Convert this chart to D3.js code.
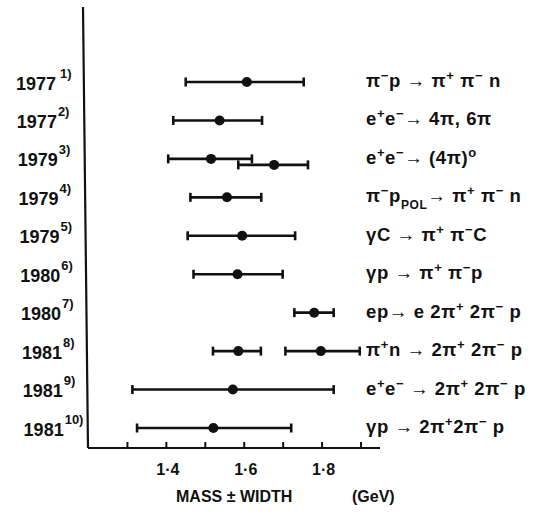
<!DOCTYPE html>
<html>
<head>
<meta charset="utf-8">
<script src="https://cdn.jsdelivr.net/npm/d3@7"></script>
<style>
  body{margin:0;background:#fff;}
  text{font-family:"Liberation Sans",Arial,sans-serif;fill:#111;}
</style>
</head>
<body>
<svg id="chart" width="546" height="518"></svg>
<script>
// rows (top to bottom)
var years=["1977","1977","1979","1979","1979","1980","1980","1981","1981","1981"];
var refs=["1)","2)","3)","4)","5)","6)","7)","8)","9)","10)"];
var reactions=[
	"π^{−}p → π^{+} π^{−} n",
	"e^{+}e^{−}→ 4π, 6π",
	"e^{+}e^{−}→ (4π)^{o}",
	"π^{−}p_{POL}→ π^{+} π^{−} n",
	"γC → π^{+}  π^{−}C",
	"γp → π^{+} π^{−}p",
	"ep→ e 2π^{+} 2π^{−} p",
	"π^{+}n → 2π^{+} 2π^{−} p",
	"e^{+}e^{−} → 2π^{+} 2π^{−} p",
	"γp → 2π^{+}2π^{−} p"
];

// measurements (GeV): row index, second point in row flag, low end, mass, high end
var pointRow=[0,1,2,2,3,4,5,6,7,7,8,9];
var pointSub=[0,0,0,1,0,0,0,0,0,0,0,0];
var lows=  [1.451,1.419,1.406,1.586,1.463,1.456,1.471,1.730,1.521,1.707,1.314,1.326];
var masses=[1.608,1.538,1.516,1.678,1.557,1.596,1.584,1.781,1.586,1.798,1.572,1.522];
var highs= [1.754,1.647,1.621,1.765,1.645,1.732,1.700,1.831,1.644,1.898,1.831,1.722];

var xTicks=[1.3,1.4,1.5,1.6,1.7,1.8,1.9];
var xTickLabels=["1·4","1·6","1·8"];
var xTickLabelValues=[1.4,1.6,1.8];

var svg=d3.select("#chart");

var x=d3.scaleLinear().domain([1.2,1.95]).range([88,380]);
var y=d3.scalePoint().domain(d3.range(years.length)).range([82,428]);
var axisY=448;

// axes: slightly slanted vertical line like the scan
svg.append("line")
	.attr("x1",83).attr("y1",7)
	.attr("x2",88).attr("y2",axisY)
	.attr("stroke","#111").attr("stroke-width",2.2);

var xAxis=d3.axisBottom(x)
	.tickValues(xTicks)
	.tickSize(-6)
	.tickFormat("");
var gx=svg.append("g")
	.attr("transform","translate(0,"+axisY+")")
	.call(xAxis);
gx.select(".domain").attr("stroke","#111").attr("stroke-width",2.2).attr("d","M88,0H380");
gx.selectAll(".tick line").attr("stroke","#111").attr("stroke-width",2);

svg.selectAll(".xlab")
	.data(xTickLabels)
	.enter().append("text")
	.attr("class","xlab")
	.attr("x",function(d,i){ return x(xTickLabelValues[i])+2; })
	.attr("y",475)
	.attr("text-anchor","middle")
	.attr("font-size",16)
	.attr("font-weight","bold")
	.text(function(d){ return d; });

svg.append("text")
	.attr("x",176).attr("y",502)
	.attr("font-size",16).attr("font-weight","bold")
	.text("MASS ± WIDTH");
svg.append("text")
	.attr("x",352).attr("y",502)
	.attr("font-size",16).attr("font-weight","bold")
	.text("(GeV)");

// year labels with reference superscripts
var yearG=svg.selectAll(".year")
	.data(years)
	.enter().append("text")
	.attr("class","year")
	.attr("x",function(d,i){ return 16+(y(i)-82)*0.022; })
	.attr("y",function(d,i){ return y(i)+7.5; })
	.attr("font-size",18)
	.attr("font-weight","bold");
yearG.append("tspan").text(function(d){ return d; });
yearG.append("tspan")
	.attr("dx",function(d,i){ return i===0?4:1; })
	.attr("dy",-12)
	.attr("font-size",13)
	.text(function(d,i){ return refs[i]; });

// reaction text: ^{..} superscript, _{..} subscript
function richText(sel,str){
	var parts=str.split(/(\^\{[^}]*\}|_\{[^}]*\})/);
	var shift=0;
	parts.forEach(function(p){
		if(p==="") return;
		var t=sel.append("tspan");
		var want=0,txt=p,size=null;
		if(p[0]==="^"){ want=-7; txt=p.slice(2,-1); size=13; }
		else if(p[0]==="_"){ want=7; txt=p.slice(2,-1); size=12; }
		if(want!==shift) t.attr("dy",want-shift);
		shift=want;
		if(size) t.attr("font-size",size);
		t.text(txt);
	});
}
svg.selectAll(".react")
	.data(reactions)
	.enter().append("text")
	.attr("class","react")
	.attr("x",366)
	.attr("y",function(d,i){ return y(i)+5; })
	.attr("font-size",18.5)
	.attr("font-weight","bold")
	.attr("letter-spacing",0.6)
	.each(function(d){ richText(d3.select(this),d); });

// error bars
var bars=svg.append("g").selectAll(".bar")
	.data(masses)
	.enter().append("g")
	.attr("class","bar")
	.attr("transform",function(d,i){ return "translate(0,"+(y(pointRow[i])+pointSub[i]*6)+")"; });

bars.append("line")
	.attr("x1",function(d,i){ return x(lows[i]); })
	.attr("x2",function(d,i){ return x(highs[i]); })
	.attr("stroke","#111").attr("stroke-width",2.6);
bars.append("line")
	.attr("x1",function(d,i){ return x(lows[i]); })
	.attr("x2",function(d,i){ return x(lows[i]); })
	.attr("y1",-4.5).attr("y2",4.5)
	.attr("stroke","#111").attr("stroke-width",2.6);
bars.append("line")
	.attr("x1",function(d,i){ return x(highs[i]); })
	.attr("x2",function(d,i){ return x(highs[i]); })
	.attr("y1",-4.5).attr("y2",4.5)
	.attr("stroke","#111").attr("stroke-width",2.6);
bars.append("circle")
	.attr("cx",function(d){ return x(d); })
	.attr("r",5)
	.attr("fill","#111");
</script>
</body>
</html>
